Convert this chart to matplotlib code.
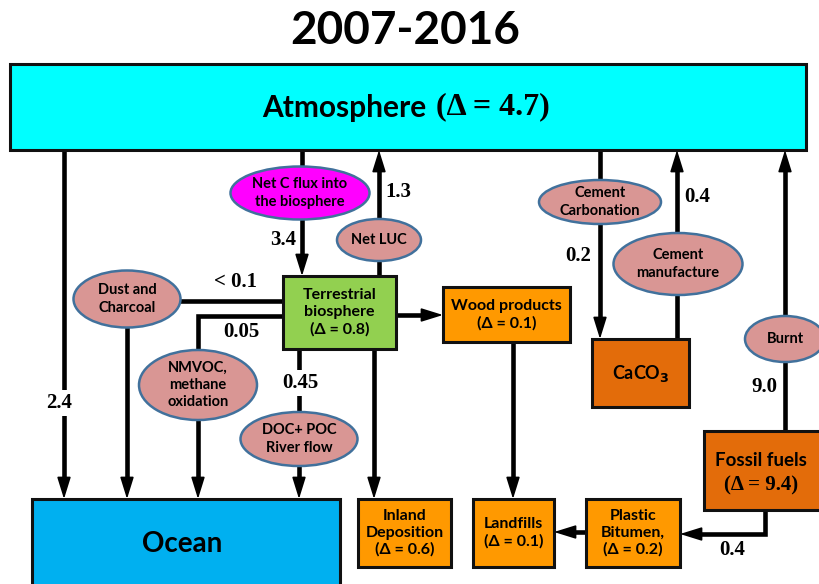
import matplotlib
matplotlib.use("Agg")
import matplotlib.pyplot as plt
from matplotlib.patches import Rectangle, Ellipse
import numpy as np

SANS = "Lato"
SERIF = "Liberation Serif"

title = "2007-2016"

# reservoirs: name -> label lines
box_names = ["atmo", "ocean", "terr", "wood", "caco3", "fossil", "inland", "landfill", "plastic"]
box_labels = {
    "ocean": "Ocean",
    "terr": "Terrestrial\nbiosphere\n(\u0394 = 0.8)",
    "wood": "Wood products\n(\u0394 = 0.1)",
    "caco3": "CaCO$_\\mathbf{3}$",
    "inland": "Inland\nDeposition\n(\u0394 = 0.6)",
    "landfill": "Landfills\n(\u0394 = 0.1)",
    "plastic": "Plastic\nBitumen,\n(\u0394 = 0.2)",
}
atmo_delta = 4.7
fossil_delta = 9.4

# process ellipses
proc_names = ["netc", "luc", "dust", "nmvoc", "doc", "carb", "cement", "burnt"]
proc_labels = {
    "netc": "Net C flux into\nthe biosphere",
    "luc": "Net LUC",
    "dust": "Dust and\nCharcoal",
    "nmvoc": "NMVOC,\nmethane\noxidation",
    "doc": "DOC+ POC\nRiver flow",
    "carb": "Cement\nCarbonation",
    "cement": "Cement\nmanufacture",
    "burnt": "Burnt",
}

# flux values (GtC/yr)
flux_names = ["atmo_ocean", "dust", "nmvoc", "doc", "netc", "luc", "carb", "cement", "burnt", "plastic"]
flux_labels = ["2.4", "< 0.1", "0.05", "0.45", "3.4", "1.3", "0.2", "0.4", "9.0", "0.4"]

# ---- layout (pixel coords) ----
box_geom = {
    "atmo": (10, 64, 796, 86, "#00FFFF"),
    "ocean": (32, 499, 308, 95, "#00B0F0"),
    "terr": (283, 276, 113, 73, "#92D050"),
    "wood": (443, 287, 127, 55, "#FF9900"),
    "caco3": (592, 339, 97, 68, "#E36C0A"),
    "fossil": (704, 431, 120, 79, "#E36C0A"),
    "inland": (358, 499, 93, 68, "#FF9900"),
    "landfill": (473, 499, 81, 68, "#FF9900"),
    "plastic": (586, 499, 94, 68, "#FF9900"),
}
ell_geom = {
    "netc": (300, 193, 139, 53, "#FF00FF"),
    "luc": (379, 240, 84, 42, "#D99694"),
    "dust": (127, 299, 107, 57, "#D99694"),
    "nmvoc": (198, 385, 118, 70, "#D99694"),
    "doc": (299, 439, 117, 54, "#D99694"),
    "carb": (600, 202, 122, 44, "#D99694"),
    "cement": (678, 264, 129, 62, "#D99694"),
    "burnt": (785, 339, 80, 46, "#D99694"),
}
label_pos = {
    "atmo_ocean": (59, 403, True), "dust": (236, 282, False), "nmvoc": (241, 332, False),
    "doc": (300, 383, True), "netc": (283, 240, False), "luc": (398, 192, False),
    "carb": (578, 256, False), "cement": (697, 197, False), "burnt": (764, 387, False),
    "plastic": (732, 550, False),
}
# arrow paths: polyline, arrow on last segment
paths = [
    [(64, 150), (64, 499)],
    [(283, 301), (127, 301), (127, 499)],
    [(283, 316), (198, 316), (198, 499)],
    [(299, 349), (299, 499)],
    [(302, 150), (302, 276)],
    [(379, 276), (379, 150)],
    [(396, 315), (443, 315)],
    [(374, 349), (374, 499)],
    [(513, 342), (513, 499)],
    [(600, 150), (600, 339)],
    [(677, 339), (677, 150)],
    [(785, 431), (785, 150)],
    [(765, 510), (765, 534), (680, 534)],
    [(586, 532), (554, 532)],
]

fig = plt.figure(figsize=(8.19, 5.84), dpi=100)
ax = fig.add_axes([0, 0, 1, 1])
ax.set_xlim(0, 819)
ax.set_ylim(584, 0)
ax.axis("off")

for p in paths:
    pts = np.array(p, dtype=float)
    d = pts[-1] - pts[-2]
    d = d / np.hypot(*d)
    line = pts.copy()
    line[-1] = pts[-1] - d * 12
    ax.plot(line[:, 0], line[:, 1], color="k", lw=3.3, solid_capstyle="butt",
            solid_joinstyle="miter", zorder=1)
    ax.annotate("", xy=tuple(pts[-1]), xytext=tuple(pts[-1] - d * 25),
                arrowprops=dict(arrowstyle="-|>,head_length=1.35,head_width=0.42",
                                color="k", lw=1.2, mutation_scale=10,
                                shrinkA=0, shrinkB=0),
                zorder=1)

for n in box_names:
    x, y, w, h, c = box_geom[n]
    ax.add_patch(Rectangle((x, y), w, h, facecolor=c, edgecolor="#111111", lw=2.2, zorder=3))
    cx = x + w / 2
    if n == "atmo":
        ax.text(426, y + h / 2 + 1, "Atmosphere", family=SANS, weight="bold", fontsize=21.5,
                ha="right", va="center", zorder=4)
        ax.text(436, y + h / 2, "(\u0394 = %.1f)" % atmo_delta, family=SERIF, weight="bold",
                fontsize=23, ha="left", va="center", zorder=4)
    elif n == "fossil":
        ax.text(x + 57, 461, "Fossil fuels", family=SANS, weight="bold", fontsize=13.5,
                ha="center", va="center", zorder=4)
        ax.text(x + 57, 485, "(\u0394 = %.1f)" % fossil_delta, family=SERIF, weight="bold",
                fontsize=15, ha="center", va="center", zorder=4)
    elif n == "ocean":
        ax.text(182, 544, box_labels[n], family=SANS, weight="bold", fontsize=20,
                ha="center", va="center", zorder=4)
    elif n == "caco3":
        ax.text(cx, y + h / 2, box_labels[n], family=SANS, weight="bold", fontsize=13,
                ha="center", va="center", zorder=4)
    else:
        ax.text(cx, y + h / 2, box_labels[n], family=SANS, weight="bold", fontsize=11.5,
                ha="center", va="center", linespacing=1.25, zorder=4)

for n in proc_names:
    cx, cy, w, h, c = ell_geom[n]
    ax.add_patch(Ellipse((cx, cy), w, h, facecolor=c, edgecolor="#41719C", lw=1.8, zorder=3))
    ax.text(cx, cy, proc_labels[n], family=SANS, weight="bold", fontsize=10.5,
            ha="center", va="center", linespacing=1.3, zorder=4)

for n, lab in zip(flux_names, flux_labels):
    x, y, bg = label_pos[n]
    kw = {}
    if bg:
        kw["bbox"] = dict(facecolor="white", edgecolor="none", pad=2)
    ax.text(x, y, lab, family=SERIF, weight="bold", fontsize=15,
            ha="center", va="center", zorder=4, **kw)

ax.text(405, 31, title, family=SANS, weight="bold", fontsize=33, ha="center", va="center")

fig.savefig("out.png", dpi=100)
